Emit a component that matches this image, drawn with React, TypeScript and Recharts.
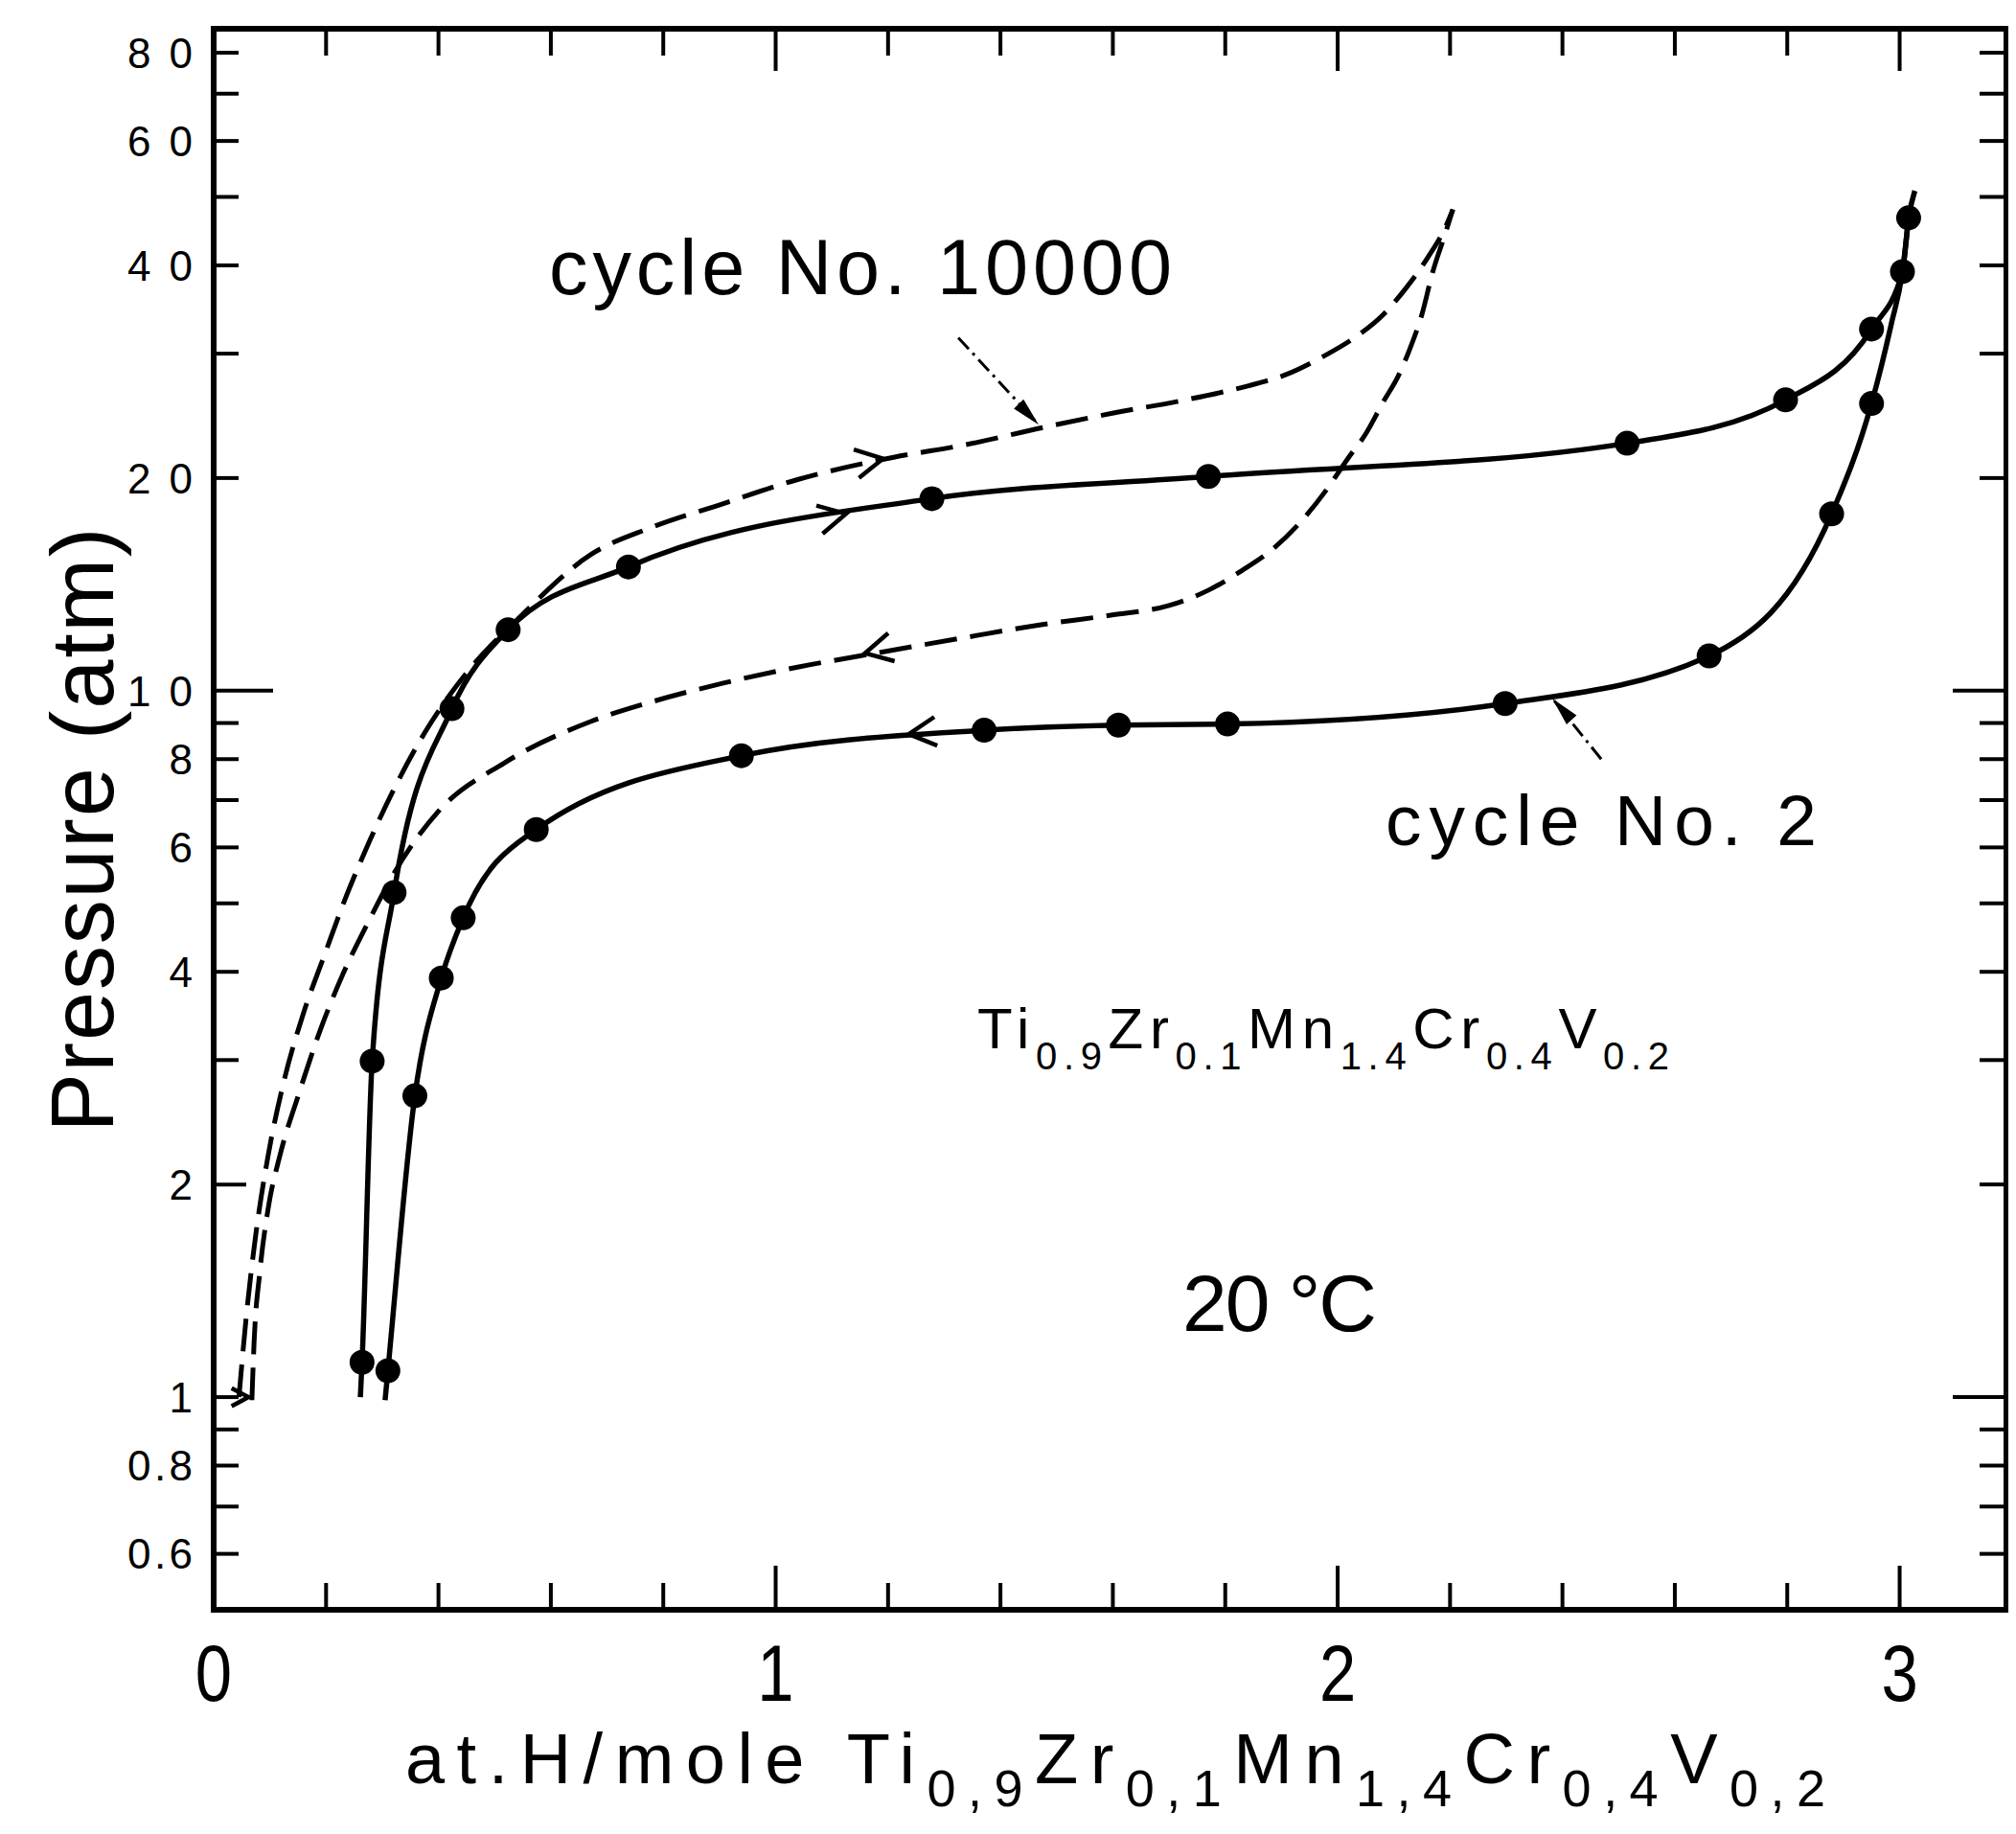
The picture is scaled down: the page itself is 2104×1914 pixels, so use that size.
import React from 'react';
import {
  ComposedChart, Line, Scatter, XAxis, YAxis, ReferenceLine, ReferenceDot,
} from 'recharts';

// axis ticks
const xTicks = [0, 0.2, 0.4, 0.6, 0.8, 1, 1.2, 1.4, 1.6, 1.8, 2, 2.2, 2.4, 2.6, 2.8, 3];
const xLabels = [0, 1, 2, 3];
const yTicks = [0.6, 0.7, 0.8, 0.9, 1, 2, 3, 4, 5, 6, 7, 8, 9, 10, 20, 30, 40, 50, 60, 70, 80];
const yLabels = [0.6, 0.8, 1, 2, 4, 6, 8, 10, 20, 40, 60, 80];

// cycle No. 2, absorption (upper solid curve)
const abs2X = [0.261, 0.264, 0.282, 0.321, 0.424, 0.524, 0.738, 1.278, 1.770, 2.515, 2.797, 2.950, 3.005, 3.016, 3.027];
const abs2P = [1.0, 1.12, 2.99, 5.18, 9.43, 12.2, 14.97, 18.7, 20.1, 22.4, 25.8, 32.5, 39.2, 46.7, 51];
const abs2DotX = [0.264, 0.282, 0.321, 0.424, 0.524, 0.738, 1.278, 1.770, 2.515, 2.797, 2.950, 3.005, 3.016];
const abs2DotP = [1.12, 2.99, 5.18, 9.43, 12.2, 14.97, 18.7, 20.1, 22.4, 25.8, 32.5, 39.2, 46.7];

// cycle No. 2, desorption (lower solid curve)
const des2X = [0.305, 0.310, 0.358, 0.405, 0.444, 0.574, 0.939, 1.371, 1.610, 1.804, 2.298, 2.661, 2.879, 2.950, 2.985, 3.005, 3.016];
const des2P = [0.99, 1.09, 2.67, 3.92, 4.77, 6.36, 8.09, 8.79, 8.94, 8.97, 9.59, 11.2, 17.8, 25.5, 33.0, 39.2, 46.7];
const des2DotX = [0.310, 0.358, 0.405, 0.444, 0.574, 0.939, 1.371, 1.610, 1.804, 2.298, 2.661, 2.879, 2.950];
const des2DotP = [1.09, 2.67, 3.92, 4.77, 6.36, 8.09, 8.79, 8.94, 8.97, 9.59, 11.2, 17.8, 25.5];

// cycle No. 10000, absorption (upper dashed curve)
const abs10kX = [0.045, 0.058, 0.075, 0.097, 0.125, 0.160, 0.196, 0.236, 0.276, 0.321, 0.371, 0.450, 0.540, 0.672, 0.777, 0.907, 1.039, 1.210, 1.339, 1.478, 1.599, 1.729, 1.840, 1.907, 1.970, 2.030, 2.080, 2.120, 2.160, 2.190, 2.205];
const abs10kP = [1.0, 1.3, 1.7, 2.2, 2.8, 3.5, 4.2, 5.12, 6.09, 7.26, 8.6, 10.6, 12.6, 15.6, 17.0, 18.4, 19.9, 21.4, 22.3, 23.6, 24.7, 25.8, 27.0, 28.0, 29.6, 31.6, 34.0, 37.0, 41.0, 45.0, 48.0];

// cycle No. 10000, desorption (lower dashed curve)
const des10kX = [0.068, 0.072, 0.082, 0.097, 0.118, 0.151, 0.191, 0.230, 0.276, 0.320, 0.400, 0.517, 0.672, 0.777, 0.907, 1.039, 1.150, 1.339, 1.472, 1.599, 1.700, 1.772, 1.830, 1.886, 1.936, 1.977, 2.018, 2.050, 2.082, 2.107, 2.128, 2.150, 2.169, 2.190, 2.205];
const des10kP = [0.99, 1.2, 1.5, 1.85, 2.2, 2.68, 3.33, 3.97, 4.72, 5.5, 6.75, 7.9, 9.05, 9.63, 10.25, 10.8, 11.2, 11.9, 12.4, 12.8, 13.2, 13.9, 14.8, 15.9, 17.4, 19.1, 21.3, 23.1, 25.7, 27.8, 30.4, 34.1, 39.1, 44.0, 48.0];

const W = 2088;
const H = 1896;
const FONT = "'Liberation Sans', Arial, Helvetica, sans-serif";
const frame = { stroke: '#000', strokeWidth: 6, strokeLinecap: 'square' as const };

const toPoints = (xs: number[], ps: number[]) => xs.map((x, i) => ({ x, p: ps[i] }));

// direction arrows drawn on the curves (angle in screen degrees)
const curveArrows = [
  { x: 1.125, p: 17.8, angle: -12.5, len: 32 },
  { x: 1.237, p: 8.68, angle: 174, len: 32 },
  { x: 1.191, p: 21.3, angle: -10.5, len: 32 },
  { x: 1.159, p: 11.3, angle: 167, len: 32 },
  { x: 0.062, p: 1.0, angle: 0, len: 20 },
];

// label pointers: from label to curve
const pointers = [
  { x1: 1.325, p1: 31.6, x2: 1.468, p2: 23.8, angle: 46 },
  { x1: 2.469, p1: 8.0, x2: 2.382, p2: 9.75, angle: -132 },
];

const BottomTick = ({ x, y, payload }: any) => {
  const v = payload.value as number;
  const major = xLabels.includes(v);
  return (
    <g>
      {v > 0 && <line x1={x} x2={x} y1={y} y2={y - (major ? 46 : 28)} stroke="#000" strokeWidth={4} />}
      {major && (
        <text
          transform={`translate(${x},${y + 95}) scale(0.82,1)`} textAnchor="middle"
          fontFamily={FONT} fontSize={84} fill="#000"
        >
          {v}
        </text>
      )}
    </g>
  );
};

const TopTick = ({ x, y, payload }: any) => {
  const v = payload.value as number;
  if (v <= 0) return <g />;
  const major = xLabels.includes(v);
  return <line x1={x} x2={x} y1={y} y2={y + (major ? 44 : 28)} stroke="#000" strokeWidth={4} />;
};

const LeftTick = ({ x, y, payload }: any) => {
  const v = payload.value as number;
  const len = v === 10 ? 62 : v === 2 ? 34 : 26;
  const label = yLabels.includes(v) ? String(v) : null;
  return (
    <g>
      <line x1={x} x2={x + len} y1={y} y2={y} stroke="#000" strokeWidth={4} />
      {label && (
        <text
          x={x - 22} y={y} dy="0.36em" textAnchor="end" fontFamily={FONT} fontSize={44} fill="#000"
          textLength={label.length > 1 ? 68 : undefined} lengthAdjust="spacing"
        >
          {label}
        </text>
      )}
    </g>
  );
};

const RightTick = ({ x, y, payload }: any) => {
  const v = payload.value as number;
  const len = v === 10 || v === 1 ? 56 : 28;
  return <line x1={x} x2={x - len} y1={y} y2={y} stroke="#000" strokeWidth={4} />;
};

const Marker = (props: any) => <circle cx={props.cx} cy={props.cy} r={13} fill="#000" />;

const chevron = (angle: number, len: number) => (props: any) => {
  const { cx, cy } = props;
  const a = (angle * Math.PI) / 180;
  const s = (28 * Math.PI) / 180;
  const b1 = a + Math.PI - s;
  const b2 = a + Math.PI + s;
  const pts = `${cx + len * Math.cos(b1)},${cy + len * Math.sin(b1)} ${cx},${cy} ${cx + len * Math.cos(b2)},${cy + len * Math.sin(b2)}`;
  return <polyline points={pts} fill="none" stroke="#000" strokeWidth={4.5} />;
};

const arrowHead = (angle: number) => (props: any) => {
  const { cx, cy } = props;
  const a = (angle * Math.PI) / 180;
  const L = 30;
  const w = 7;
  const bx = cx - L * Math.cos(a);
  const by = cy - L * Math.sin(a);
  const nx = -Math.sin(a) * w;
  const ny = Math.cos(a) * w;
  return <polygon points={`${cx},${cy} ${bx + nx},${by + ny} ${bx - nx},${by - ny}`} fill="#000" />;
};

const TextLayer = () => (
  <g fontFamily={FONT} fill="#000">
    <text x={415} y={1853} fontSize={74} textLength={1482} lengthAdjust="spacing">
      at.H/mole Ti<tspan fontSize={54} dy={24}>0,9</tspan><tspan dy={-24}>Zr</tspan>
      <tspan fontSize={54} dy={24}>0,1</tspan><tspan dy={-24}>Mn</tspan>
      <tspan fontSize={54} dy={24}>1,4</tspan><tspan dy={-24}>Cr</tspan>
      <tspan fontSize={54} dy={24}>0,4</tspan><tspan dy={-24}>V</tspan>
      <tspan fontSize={54} dy={24}>0,2</tspan>
    </text>
    <text x={565} y={299} fontSize={81} textLength={650} lengthAdjust="spacing">cycle No. 10000</text>
    <text x={1438} y={874} fontSize={75} textLength={450} lengthAdjust="spacing">cycle No. 2</text>
    <text x={1012} y={1086} fontSize={60} textLength={722} lengthAdjust="spacing">
      Ti<tspan fontSize={40} dy={22}>0.9</tspan><tspan dy={-22}>Zr</tspan>
      <tspan fontSize={40} dy={22}>0.1</tspan><tspan dy={-22}>Mn</tspan>
      <tspan fontSize={40} dy={22}>1.4</tspan><tspan dy={-22}>Cr</tspan>
      <tspan fontSize={40} dy={22}>0.4</tspan><tspan dy={-22}>V</tspan>
      <tspan fontSize={40} dy={22}>0.2</tspan>
    </text>
    <text x={1226} y={1381} fontSize={84} textLength={203} lengthAdjust="spacing">20 °C</text>
  </g>
);

const YTitle = () => (
  <text
    transform="translate(110,858) rotate(-90)" textAnchor="middle" fontFamily={FONT}
    fontSize={92} textLength={631} lengthAdjust="spacing" fill="#000"
  >
    Pressure (atm)
  </text>
);

export default function App() {
  const abs2Line = toPoints(abs2X, abs2P);
  const des2Line = toPoints(des2X, des2P);
  const abs10k = toPoints(abs10kX, abs10kP);
  const des10k = toPoints(des10kX, des10kP);
  const dots = [...toPoints(abs2DotX, abs2DotP), ...toPoints(des2DotX, des2DotP)];

  return (
    <div style={{ width: W, height: H, background: '#fff' }}>
      <ComposedChart width={W} height={H} margin={{ top: 21, right: 1, bottom: 0, left: 0 }}>
        <XAxis
          type="number" dataKey="x" domain={[0, 3.19]} allowDataOverflow ticks={xTicks} interval={0}
          height={224} tickSize={0} tickMargin={0} tickLine={false} tick={BottomTick} axisLine={frame}
          label={{ content: TextLayer }}
        />
        <XAxis
          xAxisId="top" orientation="top" type="number" dataKey="x" domain={[0, 3.19]} allowDataOverflow
          ticks={xTicks} interval={0} height={1} tickSize={0} tickMargin={0} tickLine={false}
          tick={TopTick} axisLine={frame}
        />
        <YAxis
          type="number" dataKey="p" scale="log" domain={[0.5, 86.5]} allowDataOverflow ticks={yTicks}
          interval={0} width={215} tickSize={0} tickMargin={0} tickLine={false} tick={LeftTick}
          axisLine={frame} label={{ content: YTitle }}
        />
        <YAxis
          yAxisId="right" orientation="right" type="number" dataKey="p" scale="log" domain={[0.5, 86.5]}
          allowDataOverflow ticks={yTicks} interval={0} width={1} tickSize={0} tickMargin={0}
          tickLine={false} tick={RightTick} axisLine={frame}
        />

        <Line data={abs10k} dataKey="p" type="monotone" stroke="#000" strokeWidth={5}
          strokeDasharray="34 14" dot={false} isAnimationActive={false} />
        <Line data={des10k} dataKey="p" type="monotone" stroke="#000" strokeWidth={5}
          strokeDasharray="34 14" dot={false} isAnimationActive={false} />
        <Line data={abs2Line} dataKey="p" type="monotone" stroke="#000" strokeWidth={5.5}
          dot={false} isAnimationActive={false} />
        <Line data={des2Line} dataKey="p" type="monotone" stroke="#000" strokeWidth={5.5}
          dot={false} isAnimationActive={false} />
        <Scatter data={dots} dataKey="p" shape={Marker} isAnimationActive={false} />

        {curveArrows.map((a, i) => (
          <ReferenceDot key={`ca${i}`} x={a.x} y={a.p} r={0} ifOverflow="visible" shape={chevron(a.angle, a.len)} />
        ))}
        {pointers.map((q, i) => (
          <ReferenceLine key={`pl${i}`} segment={[{ x: q.x1, y: q.p1 }, { x: q.x2, y: q.p2 }]}
            stroke="#000" strokeWidth={3} strokeDasharray="16 6 3 6" ifOverflow="visible" />
        ))}
        {pointers.map((q, i) => (
          <ReferenceDot key={`ph${i}`} x={q.x2} y={q.p2} r={0} ifOverflow="visible" shape={arrowHead(q.angle)} />
        ))}
      </ComposedChart>
    </div>
  );
}
